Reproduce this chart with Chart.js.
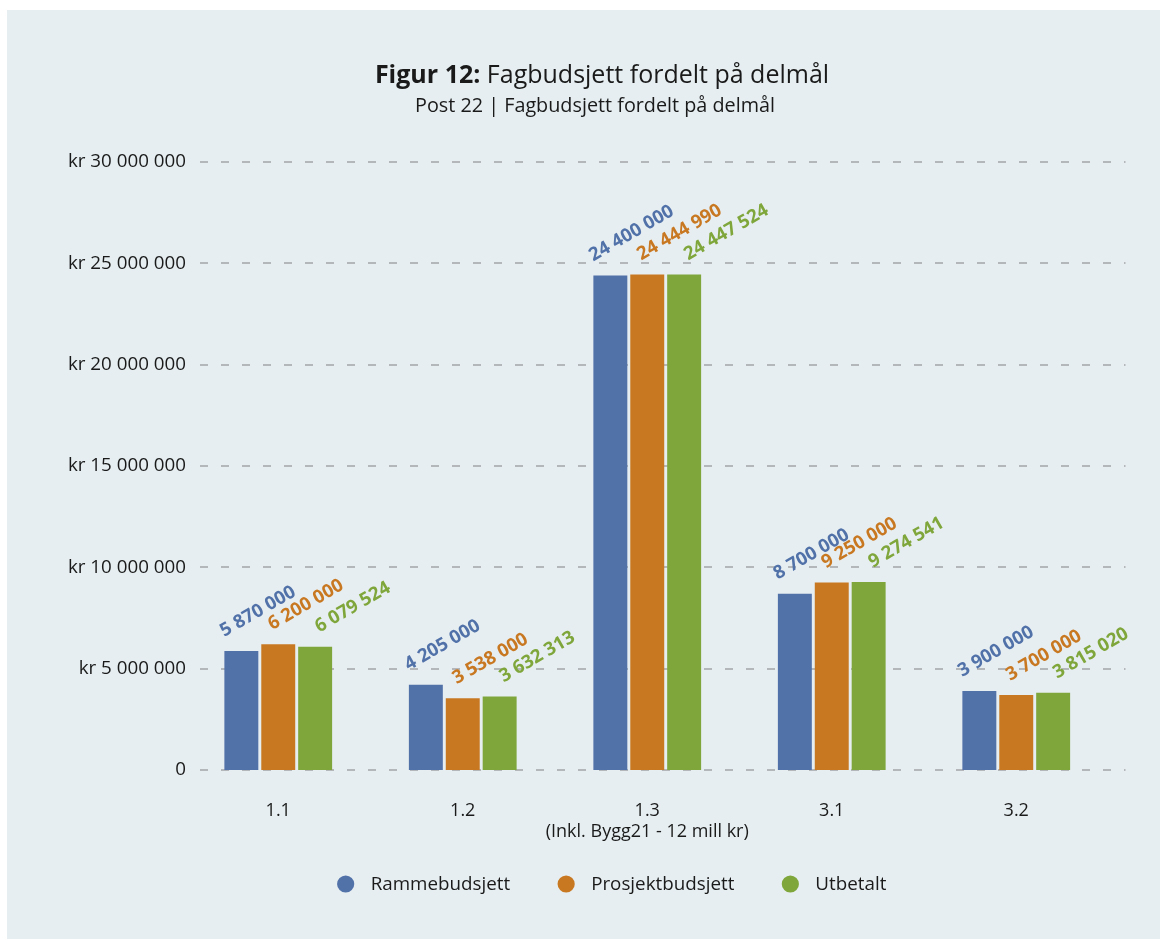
<!DOCTYPE html>
<html>
<head>
<meta charset="utf-8">
<title>Figur 12: Fagbudsjett fordelt på delmål</title>
<script src="https://cdn.jsdelivr.net/npm/chart.js@4.4.1/dist/chart.umd.min.js"></script>
<style>
  html, body { margin: 0; padding: 0; background: #fff; }
  #panel { position: absolute; left: 7px; top: 10px; width: 1153px; height: 929px; background: #e6eef1; }
</style>
</head>
<body>
<div id="panel"><canvas id="fagbudsjett"></canvas></div>
<script>
const categories = ["1.1", "1.2", ["1.3", "(Inkl. Bygg21 - 12 mill kr)"], "3.1", "3.2"];
const seriesNames = ["Rammebudsjett", "Prosjektbudsjett", "Utbetalt"];
const rammebudsjett = [5870000, 4205000, 24400000, 8700000, 3900000];
const prosjektbudsjett = [6200000, 3538000, 24444990, 9250000, 3700000];
const utbetalt = [6079524, 3632313, 24447524, 9274541, 3815020];
const yMax = 30000000;
const yStep = 5000000;

const colors = ["#5171a9", "#c97822", "#7fa63b"];
const labelShift = [-17, -6, 4];
const FONT = "'Open Sans', sans-serif";

// 5870000 -> "5 870 000"
const fmt = v => String(v).replace(/\B(?=(\d{3})+(?!\d))/g, " ");

const titlePlugin = {
    id: "titleText",
    afterDraw(chart) {
        const ctx = chart.ctx;
        ctx.save();
        ctx.fillStyle = "#1a1a1a";
        ctx.textBaseline = "alphabetic";
        ctx.textAlign = "left";
        const boldPart = "Figur 12:";
        const restPart = " Fagbudsjett fordelt på delmål";
        ctx.font = "bold 25px " + FONT;
        const wb = ctx.measureText(boldPart).width;
        ctx.font = "25px " + FONT;
        const wr = ctx.measureText(restPart).width;
        let x = 595 - (wb + wr) / 2;
        ctx.font = "bold 25px " + FONT;
        ctx.fillText(boldPart, x, 73);
        ctx.font = "25px " + FONT;
        ctx.fillText(restPart, x + wb, 73);

        ctx.font = "19.8px " + FONT;
        ctx.textAlign = "center";
        ctx.fillText("Post 22 | Fagbudsjett fordelt på delmål", 588, 102);
        ctx.restore();
    }
};

const gridPlugin = {
    id: "dashedGrid",
    beforeDatasetsDraw(chart) {
        const ctx = chart.ctx;
        const y = chart.scales.y;
        const area = chart.chartArea;
        ctx.save();
        ctx.strokeStyle = "#b3b7b9";
        ctx.lineWidth = 2;
        ctx.setLineDash([8, 13]);
        y.ticks.forEach(t => {
            const py = Math.round(y.getPixelForValue(t.value));
            ctx.beginPath();
            ctx.moveTo(area.left + 14, py);
            ctx.lineTo(area.right + 17, py);
            ctx.stroke();
        });
        ctx.restore();
    }
};

const valueLabelPlugin = {
    id: "valueLabels",
    afterDatasetsDraw(chart) {
        const ctx = chart.ctx;
        ctx.save();
        ctx.font = "bold 18.5px " + FONT;
        ctx.textAlign = "left";
        ctx.textBaseline = "alphabetic";
        chart.data.datasets.forEach((ds, i) => {
            const meta = chart.getDatasetMeta(i);
            meta.data.forEach((bar, j) => {
                ctx.save();
                ctx.fillStyle = colors[i];
                ctx.translate(bar.x + labelShift[i], bar.y - 14);
                ctx.rotate(-Math.PI / 6);
                ctx.fillText(fmt(ds.data[j]), 0, 0);
                ctx.restore();
            });
        });
        ctx.restore();
    }
};

const legendPlugin = {
    id: "circleLegend",
    afterDraw(chart) {
        const ctx = chart.ctx;
        ctx.save();
        ctx.font = "18.8px " + FONT;
        const widths = seriesNames.map(n => ctx.measureText(n).width);
        const total = widths.reduce((a, w) => a + 25 + w, 0) + 56 * 2 + 8;
        let x = 605 - total / 2 + 8;
        const cy = 874;
        seriesNames.forEach((name, i) => {
            ctx.fillStyle = colors[i];
            ctx.beginPath();
            ctx.arc(x, cy, 8.6, 0, Math.PI * 2);
            ctx.fill();
            ctx.fillStyle = "#1a1a1a";
            ctx.textBaseline = "middle";
            ctx.fillText(name, x + 25, cy + 1);
            x += 25 + widths[i] + 56;
        });
        ctx.restore();
    }
};

const fagbudsjettChart = () => {
    const ctx = document.getElementById("fagbudsjett").getContext("2d");
    const seriesData = [rammebudsjett, prosjektbudsjett, utbetalt];

    const data = {
        labels: categories,
        datasets: seriesNames.map((name, i) => ({
            label: name,
            data: seriesData[i],
            backgroundColor: colors[i],
            categoryPercentage: 0.6,
            barPercentage: 0.92
        }))
    };

    const config = {
        type: "bar",
        data: data,
        options: {
            responsive: true,
            maintainAspectRatio: false,
            animation: false,
            layout: {
                padding: { top: 152, right: 51.5, bottom: 89, left: 0 }
            },
            plugins: {
                legend: { display: false },
                title: { display: false },
                tooltip: { enabled: false }
            },
            scales: {
                x: {
                    grid: { display: false, drawTicks: false },
                    border: { display: false },
                    ticks: {
                        color: "#1a1a1a",
                        padding: 30,
                        autoSkip: false,
                        maxRotation: 0,
                        font: { family: FONT, size: 18, lineHeight: 1.18 }
                    },
                    afterFit: scale => { scale.height = 80; }
                },
                y: {
                    min: 0,
                    max: yMax,
                    grid: { display: false, drawTicks: false },
                    border: { display: false },
                    ticks: {
                        stepSize: yStep,
                        color: "#1a1a1a",
                        padding: 0,
                        font: { family: FONT, size: 18.8 },
                        callback: v => v === 0 ? "0" : "kr " + fmt(v)
                    },
                    afterFit: scale => { scale.width = 179; }
                }
            }
        },
        plugins: [gridPlugin, valueLabelPlugin, titlePlugin, legendPlugin]
    };

    const chart = new Chart(ctx, config);
};
fagbudsjettChart();
</script>
</body>
</html>
